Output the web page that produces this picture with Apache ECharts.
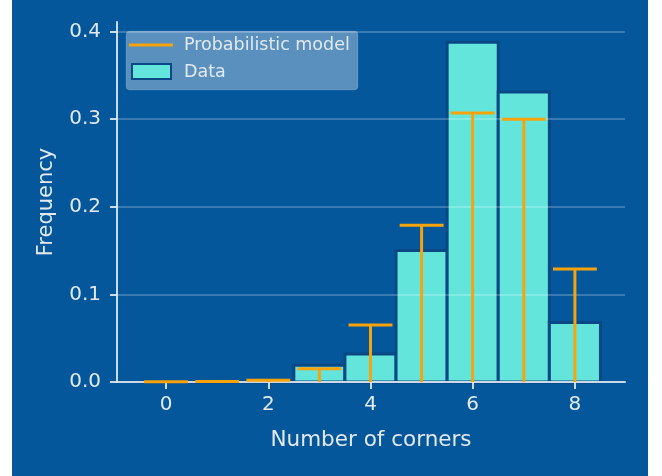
<!DOCTYPE html>
<html>
<head>
<meta charset="utf-8">
<script src="https://cdn.jsdelivr.net/npm/echarts@6/dist/echarts.min.js"></script>
<style>
html,body{margin:0;padding:0;background:#ffffff;}
#chart{width:662px;height:476px;background:linear-gradient(to right,#ffffff 0,#ffffff 12px,#04579b 12px,#04579b 648px,#ffffff 648px);}
</style>
</head>
<body>
<div id="chart"></div>
<script>
// ---- data ----
var corners = [0, 1, 2, 3, 4, 5, 6, 7, 8];
var dataFreq = [0, 0, 0, 0.019, 0.032, 0.150, 0.388, 0.331, 0.068];
var modelFreq = [0.0003, 0.0005, 0.002, 0.015, 0.065, 0.179, 0.307, 0.300, 0.129];
var xTicks = [0, 2, 4, 6, 8];
var yTicks = [0, 0.1, 0.2, 0.3, 0.4];
var gridTicks = [0.1, 0.2, 0.3, 0.4];
var legendNames = ['Probabilistic model', 'Data'];

// ---- style ----
var ORANGE = '#f7a30c';
var TURQ = '#63e5dc';
var EDGE = '#0a4785';
var TXT = '#e4e9ef';
var AXIS = 'rgba(225,233,242,0.9)';
var FONT = 'DejaVu Sans';

var chart = echarts.init(document.getElementById('chart'), null, {renderer: 'canvas'});

var barData = corners.map(function (c, i) { return [c, dataFreq[i]]; });
var modelData = corners.map(function (c, i) { return [c, modelFreq[i]]; });

var option = {
  backgroundColor: 'transparent',
  animation: false,
  grid: {left: 117, right: 37, top: 22, bottom: 94, containLabel: false},
  xAxis: {
    type: 'value', min: -0.96, max: 8.98, z: 3,
    name: 'Number of corners', nameLocation: 'middle', nameGap: 47,
    nameTextStyle: {color: TXT, fontSize: 21.5, fontFamily: FONT},
    axisLine: {show: true, onZero: false, lineStyle: {color: AXIS, width: 2}},
    axisTick: {show: true, length: 7, customValues: xTicks, lineStyle: {color: AXIS, width: 2}},
    axisLabel: {customValues: xTicks, color: TXT, fontSize: 20, fontFamily: FONT, margin: 13,
      formatter: function (v) { return String(v); }},
    splitLine: {show: false}
  },
  yAxis: {
    type: 'value', min: 0, max: 0.411, z: 3,
    name: 'Frequency', nameLocation: 'middle', nameGap: 60,
    nameTextStyle: {color: TXT, fontSize: 21, fontFamily: FONT},
    axisLine: {show: true, onZero: false, lineStyle: {color: AXIS, width: 2}},
    axisTick: {show: true, length: 7, customValues: yTicks, lineStyle: {color: AXIS, width: 2}},
    axisLabel: {customValues: yTicks, color: TXT, fontSize: 20, fontFamily: FONT, margin: 16,
      formatter: function (v) { return v.toFixed(1); }},
    splitLine: {show: false}
  },
  series: [
    {
      name: legendNames[1], type: 'custom', z: 2,
      data: barData,
      renderItem: function (params, api) {
        var x = api.value(0), v = api.value(1);
        var p0 = api.coord([x - 0.5, v]);
        var p1 = api.coord([x + 0.5, 0]);
        return {
          type: 'rect',
          shape: {x: p0[0], y: p0[1], width: p1[0] - p0[0], height: p1[1] - p0[1]},
          style: {fill: TURQ, stroke: EDGE, lineWidth: 3}
        };
      },
      markLine: {
        silent: true, symbol: 'none', z: 3,
        label: {show: false},
        lineStyle: {color: 'rgba(255,255,255,0.22)', width: 2, type: 'solid'},
        data: gridTicks.map(function (t) { return {yAxis: t}; })
      }
    },
    {
      name: legendNames[0], type: 'custom', z: 4,
      data: modelData,
      renderItem: function (params, api) {
        var x = api.value(0), v = api.value(1);
        var base = api.coord([x, 0]);
        var top = api.coord([x, v]);
        var cl = api.coord([x - 0.4, v]);
        var cr = api.coord([x + 0.4, v]);
        return {
          type: 'group',
          children: [
            {type: 'line', shape: {x1: base[0], y1: base[1], x2: top[0], y2: top[1]},
              style: {stroke: ORANGE, lineWidth: 3, lineCap: 'butt'}},
            {type: 'line', shape: {x1: cl[0], y1: cl[1], x2: cr[0], y2: cr[1]},
              style: {stroke: ORANGE, lineWidth: 3, lineCap: 'square'}}
          ]
        };
      }
    }
  ],
  graphic: [
    {type: 'rect', z: 100, shape: {x: 126, y: 31, width: 232, height: 59, r: 4},
      style: {fill: 'rgba(255,255,255,0.34)', stroke: 'rgba(255,255,255,0.12)', lineWidth: 1}},
    {type: 'line', z: 101, shape: {x1: 129, y1: 45, x2: 173, y2: 45},
      style: {stroke: ORANGE, lineWidth: 3}},
    {type: 'rect', z: 101, shape: {x: 132, y: 64, width: 39, height: 15},
      style: {fill: TURQ, stroke: EDGE, lineWidth: 2}},
    {type: 'text', z: 101, x: 184, y: 45,
      style: {text: legendNames[0], fill: TXT, font: '17.5px "DejaVu Sans"', textVerticalAlign: 'middle', verticalAlign: 'middle'}},
    {type: 'text', z: 101, x: 184, y: 72,
      style: {text: legendNames[1], fill: TXT, font: '17.5px "DejaVu Sans"', textVerticalAlign: 'middle', verticalAlign: 'middle'}}
  ]
};
chart.setOption(option);
</script>
</body>
</html>
